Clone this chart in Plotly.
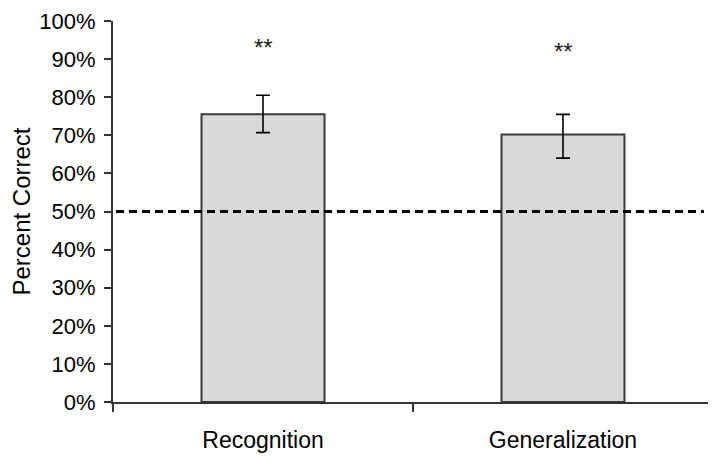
import plotly.graph_objects as go

categories = ["Recognition", "Generalization"]
values = [75.5, 70.2]
err_plus = [5.0, 5.3]
err_minus = [4.8, 6.2]
sig_labels = ["**", "**"]
sig_y = [93.0, 92.0]
chance = 50
y_ticks = list(range(0, 101, 10))
y_tick_labels = [f"{v}%" for v in y_ticks]

FONT = "Liberation Sans, Arial, sans-serif"

fig = go.Figure()
fig.add_trace(go.Bar(
    x=categories, y=values,
    marker=dict(color="#d9d9d9", line=dict(color="#3a3a3a", width=2)),
    error_y=dict(type="data", symmetric=False, array=err_plus, arrayminus=err_minus,
                 color="black", thickness=1.6, width=7),
    width=0.41,
))

fig.add_shape(type="line", xref="paper", yref="y", x0=0.005, x1=0.985, y0=chance, y1=chance,
              line=dict(color="black", width=3, dash="8px,5px"), layer="above")

for c, s, yy in zip(categories, sig_labels, sig_y):
    fig.add_annotation(x=c, y=yy, text=s, showarrow=False,
                       font=dict(family=FONT, size=24, color="#222"))

fig.update_layout(
    width=716, height=457,
    margin=dict(l=105, r=11, t=13, b=63, autoexpand=False),
    paper_bgcolor="white", plot_bgcolor="white",
    showlegend=False,
    font=dict(family=FONT, size=22, color="black"),
)
fig.update_xaxes(
    automargin=False,
    range=[-0.5, 1.5], showline=True, linecolor="#333", linewidth=2,
    ticks="outside", tickson="boundaries", ticklen=8, tickwidth=2, tickcolor="#333",
    tickfont=dict(family=FONT, size=23), showgrid=False, zeroline=False,
    ticklabelstandoff=16, ticklabeloverflow="allow",
)
fig.update_yaxes(
    automargin=False,
    range=[0, 100], tickvals=y_ticks, ticktext=y_tick_labels,
    showline=True, linecolor="#333", linewidth=2,
    ticks="outside", ticklen=7, tickwidth=2, tickcolor="#333",
    tickfont=dict(family=FONT, size=22), showgrid=False, zeroline=False,
    ticklabelstandoff=4, ticklabeloverflow="allow",
    title=dict(text="Percent Correct", font=dict(family=FONT, size=24), standoff=17),
)

fig.write_html("out.html")
